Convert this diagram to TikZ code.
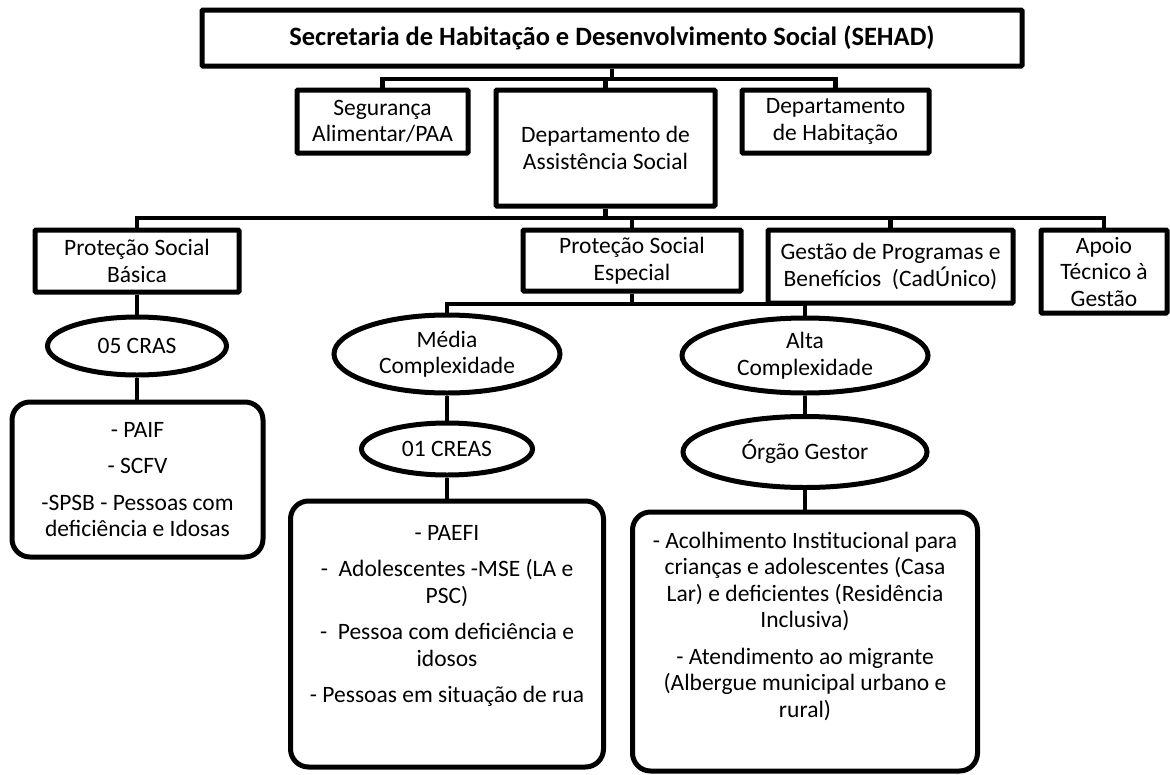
\documentclass[tikz,border=0pt]{standalone}
\usepackage{fontspec}
\setmainfont{Carlito}
\usetikzlibrary{shapes.geometric}
\begin{document}
\begin{tikzpicture}[x=1pt,y=-1pt,
  every node/.style={font=\fontsize{23.5}{26.5}\selectfont, align=center, inner sep=0pt},
  box/.style={draw, line width=5pt, rectangle, rounded corners=1pt},
  rbox/.style={draw, line width=5pt, rectangle, rounded corners=18pt},
  oval/.style={draw, line width=5pt, ellipse},
  conn/.style={line width=4.5pt},
  txt/.style={anchor=north}
  ]
\useasboundingbox (0,0) rectangle (1170,774);
% level 1
\node[box, minimum width=820pt, minimum height=56pt] (sehad) at (612,38)
  {\fontsize{26.5}{30}\selectfont\bfseries Secretaria de Habitação e Desenvolvimento Social (SEHAD)};
% level 2
\node[box, minimum width=171pt, minimum height=63pt] (seg) at (382.5,121.5) {Segurança\\Alimentar/PAA};
\node[box, minimum width=219pt, minimum height=116pt] (das) at (605.5,148) {Departamento de\\Assistência Social};
\node[box, minimum width=187pt, minimum height=63pt] (hab) at (835.5,121.5) {Departamento\\de Habitação};
% level 3
\node[box, minimum width=204pt, minimum height=62pt] (psb) at (137,261) {Proteção Social\\Básica};
\node[box, minimum width=218pt, minimum height=61pt] (pse) at (632,260.5) {Proteção Social\\Especial};
\node[box, minimum width=245pt, minimum height=73pt] (gest) at (890.5,266.5) {Gestão de Programas e\\Benefícios\ \ (CadÚnico)};
\node[box, minimum width=126pt, minimum height=83pt] (apoio) at (1104,271.5) {Apoio\\Técnico à\\Gestão};
% ellipses
\node[oval, minimum width=179pt, minimum height=58pt] (cras) at (137,346) {05 CRAS};
\node[oval, minimum width=226pt, minimum height=78pt] (media) at (447,354) {Média\\Complexidade};
\node[oval, minimum width=246pt, minimum height=75pt] (alta) at (805,355.5) {Alta\\Complexidade};
\node[oval, minimum width=171pt, minimum height=52pt] (creas) at (447,449) {01 CREAS};
\node[oval, minimum width=244pt, minimum height=71pt] (orgao) at (805,452) {Órgão Gestor};
% rounded boxes
\node[rbox, minimum width=251pt, minimum height=155pt] (paif) at (137.5,479.5) {};
\node[rbox, minimum width=313pt, minimum height=266pt] (creasbox) at (447,634) {};
\node[rbox, minimum width=345pt, minimum height=259pt] (orgaobox) at (805,641.5) {};
\node[txt] (paiftxt) at (137.5,418.5) {\strut- PAIF\\[10pt]- SCFV\\[10pt]-SPSB - Pessoas com\\deficiência e Idosas};
\node[txt] (creastxt) at (447,521.5) {\strut- PAEFI\\[10pt]-\ \ Adolescentes -MSE (LA e\\PSC)\\[10pt]-\ \ Pessoa com deficiência e\\idosos\\[10pt]- Pessoas em situação de rua};
\node[txt] (orgaotxt) at (805,529.5) {\strut- Acolhimento Institucional para\\crianças e adolescentes (Casa\\Lar) e deficientes (Residência\\Inclusiva)\\[10pt]- Atendimento ao migrante\\(Albergue municipal urbano e\\rural)};
% bus coordinates
\coordinate (b1) at (0,79);
\coordinate (b2) at (0,218);
\coordinate (b3) at (0,304);
% connectors
\draw[conn] (sehad.south) -- (sehad.south |- b1);
\draw[conn] (seg.north) -- (seg.north |- b1) -- (hab.north |- b1) -- (hab.north);
\draw[conn] (das.north) -- (das.north |- b1);
\draw[conn] (das.south) -- (das.south |- b2);
\draw[conn] (psb.north) -- (psb.north |- b2) -- (apoio.north |- b2) -- (apoio.north);
\draw[conn] (pse.north) -- (pse.north |- b2);
\draw[conn] (gest.north) -- (gest.north |- b2);
\draw[conn] (psb.south) -- (psb.south |- cras.north);
\draw[conn] (cras.south) -- (cras.south |- paif.north);
\draw[conn] (pse.south) -- (pse.south |- b3);
\draw[conn] (media.north) -- (media.north |- b3) -- (alta.north |- b3) -- (alta.north);
\draw[conn] (media.south) -- (media.south |- creas.north);
\draw[conn] (creas.south) -- (creas.south |- creasbox.north);
\draw[conn] (alta.south) -- (alta.south |- orgao.north);
\draw[conn] (orgao.south) -- (orgao.south |- orgaobox.north);
\end{tikzpicture}
\end{document}
